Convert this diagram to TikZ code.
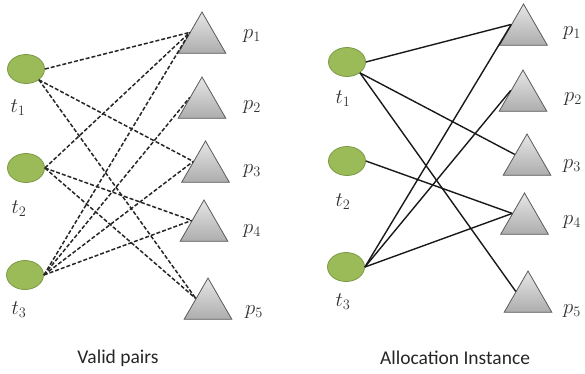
\documentclass[tikz,border=0pt]{standalone}
\usepackage{fontspec}
\setsansfont{Carlito}
\usetikzlibrary{shapes.geometric}
\definecolor{tgreen}{HTML}{9BBB59}
\definecolor{tborder}{HTML}{7A9A45}
\definecolor{ptop}{HTML}{E6E6E6}
\definecolor{pbot}{HTML}{ADADAD}
\definecolor{pborder}{HTML}{5A5A5A}
\begin{document}
\begin{tikzpicture}[x=1pt,y=-1pt,
  task/.style={ellipse, draw=tborder, fill=tgreen, line width=0.8pt,
    minimum width=37pt, minimum height=29pt, inner sep=0pt},
  proc/.style={regular polygon, regular polygon sides=3, minimum size=55pt,
    inner sep=0pt, draw=pborder, line width=0.8pt, top color=ptop, bottom color=pbot},
  lab/.style={font=\fontsize{21}{24}\selectfont, inner sep=0pt, text=black!80},
  captext/.style={font=\sffamily\fontsize{19.5}{23}\selectfont, inner sep=0pt, text=black!85},
  valid/.style={line width=1.5pt, dash pattern=on 4pt off 2pt, black!85},
  alloc/.style={line width=1.4pt, black!90}]
\useasboundingbox (0,0) rectangle (585,373);
% ---------- left panel: valid pairs ----------
\node[task] (lt1) at (26,69) {};
\node[task] (lt2) at (26,168) {};
\node[task] (lt3) at (25,275) {};
\node[lab] (llt1) at (18,108) {$t_1$};
\node[lab] (llt2) at (19,209) {$t_2$};
\node[lab] (llt3) at (19,310) {$t_3$};
\node[proc] (lp1) at (202,39.5) {};
\node[proc] (lp2) at (202,104.5) {};
\node[proc] (lp3) at (205.5,168.5) {};
\node[proc] (lp4) at (204,227.5) {};
\node[proc] (lp5) at (208,305.5) {};
\node[lab] (llp1) at (252,36) {$p_1$};
\node[lab] (llp2) at (252,107) {$p_2$};
\node[lab] (llp3) at (252,171) {$p_3$};
\node[lab] (llp4) at (252,231) {$p_4$};
\node[lab] (llp5) at (254,312) {$p_5$};
\draw[valid] (lt1.east) -- (lp1.side 1);
\draw[valid] (lt1.-40) -- (lp3.side 1);
\draw[valid] (lt1.-40) -- (lp5.side 1);
\draw[valid] (lt2.east) -- (lp1.side 1);
\draw[valid] (lt2.east) -- (lp4.side 1);
\draw[valid] (lt2.east) -- (lp5.side 1);
\draw[valid] (lt3.east) -- (lp1.side 1);
\draw[valid] (lt3.east) -- (lp2.side 1);
\draw[valid] (lt3.east) -- (lp3.side 1);
\draw[valid] (lt3.east) -- (lp4.side 1);
\node[captext] (lcap) at (118,358) {Valid pairs};
% ---------- right panel: allocation instance ----------
\node[task] (rt1) at (347,62) {};
\node[task] (rt2) at (347,161) {};
\node[task] (rt3) at (346,267) {};
\node[lab] (lrt1) at (343,99) {$t_1$};
\node[lab] (lrt2) at (343,202) {$t_2$};
\node[lab] (lrt3) at (343,302) {$t_3$};
\node[proc] (rp1) at (523.5,31.5) {};
\node[proc] (rp2) at (523,97.5) {};
\node[proc] (rp3) at (527,161.5) {};
\node[proc] (rp4) at (524.5,220.5) {};
\node[proc] (rp5) at (528,298.5) {};
\node[lab] (lrp1) at (572,33) {$p_1$};
\node[lab] (lrp2) at (573,99) {$p_2$};
\node[lab] (lrp3) at (572,166) {$p_3$};
\node[lab] (lrp4) at (572,222) {$p_4$};
\node[lab] (lrp5) at (572,311) {$p_5$};
\draw[alloc] (rt1.east) -- (rp1.side 1);
\draw[alloc] (rt1.-40) -- (rp3.side 1);
\draw[alloc] (rt1.-40) -- (rp5.side 1);
\draw[alloc] (rt2.east) -- (rp4.side 1);
\draw[alloc] (rt3.east) -- (rp1.side 1);
\draw[alloc] (rt3.east) -- (rp2.side 1);
\draw[alloc] (rt3.east) -- (rp4.side 1);
\node[captext] (rcap) at (455,358) {Allocation Instance};
\end{tikzpicture}
\end{document}
